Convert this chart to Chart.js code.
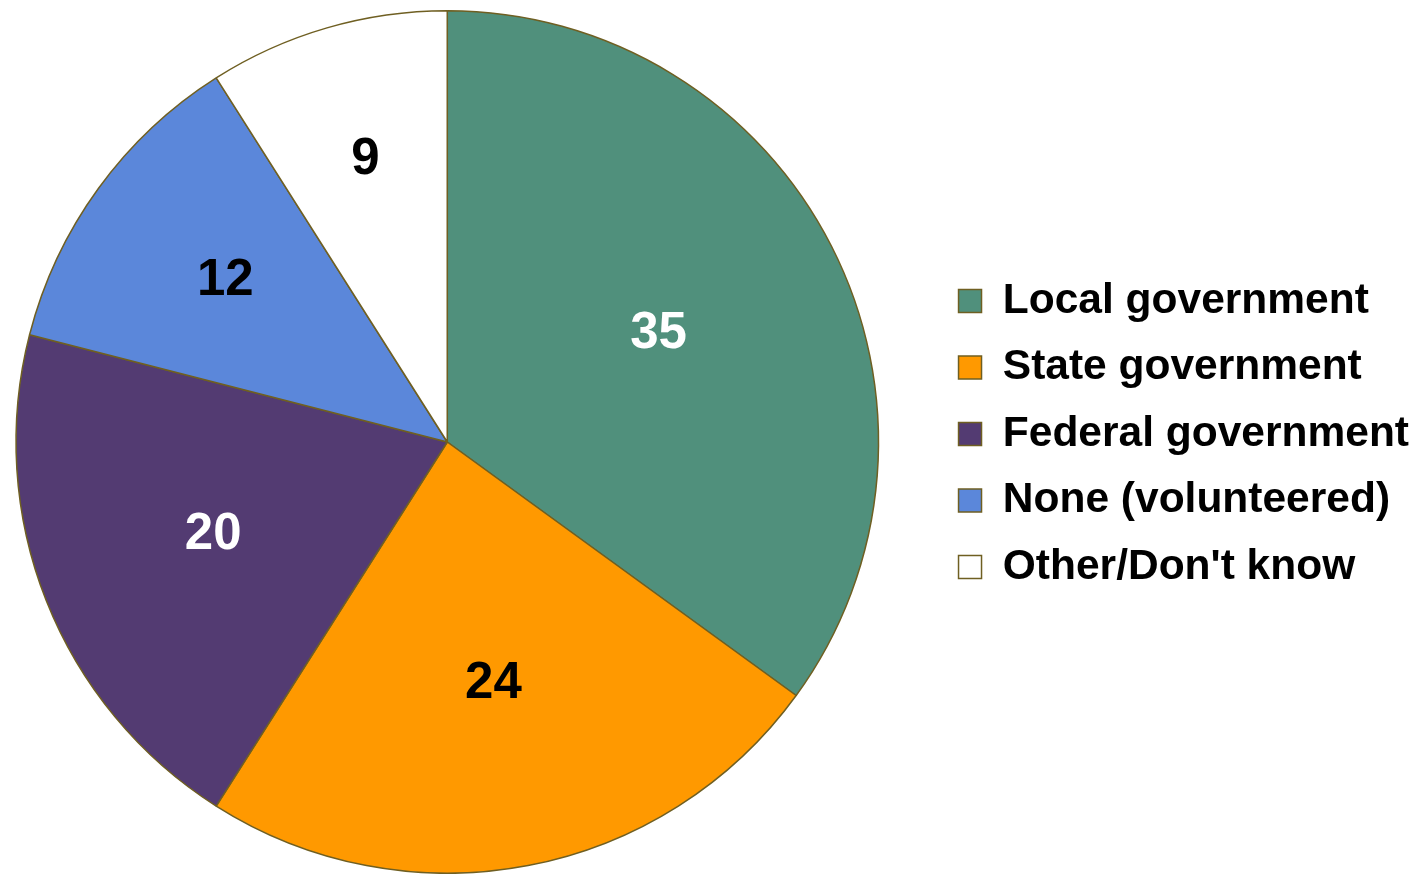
<!DOCTYPE html>
<html lang="en">
<head>
  <meta charset="UTF-8" />
  <title>Government level pie</title>
  <script src="https://cdn.jsdelivr.net/npm/chart.js"></script>
  <style>
    html, body { margin: 0; padding: 0; background: #fff; }
    #wrap { width: 1421px; height: 874px; position: relative; }
  </style>
</head>
<body>
  <div id="wrap"><canvas id="pieChart"></canvas></div>

  <script>
    const categories = ['Local government', 'State government', 'Federal government', 'None (volunteered)', "Other/Don't know"];
    const shares = [35, 24, 20, 12, 9];
    const sliceColors = ['#50907c', '#ff9900', '#533b72', '#5b87da', '#ffffff'];
    const labelColors = ['#ffffff', '#000000', '#ffffff', '#000000', '#000000'];

    // puts the value inside each slice, small slices a bit further out
    const sliceLabels = {
      id: 'sliceLabels',
      afterDatasetsDraw(chart) {
        const ctx = chart.ctx;
        const meta = chart.getDatasetMeta(0);
        ctx.save();
        ctx.font = 'bold 51px "Liberation Sans", Arial, sans-serif';
        ctx.textAlign = 'center';
        ctx.textBaseline = 'middle';
        meta.data.forEach((arc, i) => {
          const p = arc.getProps(['x', 'y', 'startAngle', 'endAngle', 'outerRadius'], true);
          const mid = (p.startAngle + p.endAngle) / 2;
          const r = p.outerRadius * (0.505 + 1.575 / shares[i]);
          ctx.fillStyle = labelColors[i];
          ctx.fillText(shares[i], p.x + Math.cos(mid) * r, p.y + Math.sin(mid) * r);
        });
        ctx.restore();
      }
    };

    // pie sits a bit left of its box, legend a bit higher and to the right
    const layoutNudge = {
      id: 'layoutNudge',
      afterLayout(chart) {
        const lg = chart.legend;
        if (lg) {
          lg.top -= 8; lg.bottom -= 8;
          lg.left += 8; lg.right += 8;
        }
        chart.chartArea.left -= 16;
        chart.chartArea.right -= 16;
      }
    };

    new Chart(document.getElementById('pieChart'), {
      type: 'pie',
      data: {
        labels: categories,
        datasets: [{
          data: shares,
          backgroundColor: sliceColors,
          borderColor: '#6f5f22',
          borderWidth: 1.5
        }]
      },
      options: {
        responsive: true,
        maintainAspectRatio: false,
        animation: false,
        layout: { padding: { top: 10, bottom: 0, left: 0, right: 10 } },
        plugins: {
          tooltip: { enabled: false },
          legend: {
            position: 'right',
            align: 'center',
            labels: {
              boxWidth: 23,
              boxHeight: 23,
              padding: 24,
              color: '#000',
              font: { family: '"Liberation Sans", Arial, sans-serif', size: 42.5, weight: 'bold' }
            }
          }
        }
      },
      plugins: [sliceLabels, layoutNudge]
    });
  </script>
</body>
</html>
